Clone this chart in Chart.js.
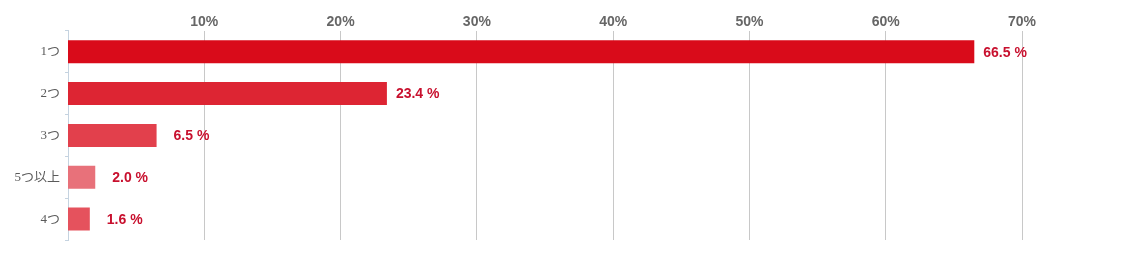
<!DOCTYPE html>
<html>
<head>
<meta charset="utf-8">
<script src="https://cdn.jsdelivr.net/npm/chart.js@4"></script>
<style>
    html, body { margin: 0; padding: 0; background: #fff; }
    #wrap { width: 1123px; height: 255px; }
</style>
</head>
<body>
<div id="wrap"><canvas id="c"></canvas></div>
<script>
const categories = ["1つ", "2つ", "3つ", "5つ以上", "4つ"];
const shares = [66.5, 23.4, 6.5, 2.0, 1.6];
const barColors = ["#d90b1a", "#dd2533", "#e2404c", "#e8717a", "#e5525d"];
const xTicks = [10, 20, 30, 40, 50, 60, 70];

const COLORS = {
    grid: "#c8c8c8",
    axis: "#c5d3e0",
    tickText: "#666666",
    catText: "#5a5a5a",
    label: "#c8102e",
};

const valueLabels = {
    id: "valueLabels",
    afterDatasetsDraw(chart) {
        const ctx = chart.ctx;
        const meta = chart.getDatasetMeta(0);
        ctx.save();
        ctx.font = "bold 14px 'Liberation Sans', Arial, sans-serif";
        ctx.fillStyle = COLORS.label;
        ctx.textBaseline = "middle";
        ctx.textAlign = "left";
        meta.data.forEach((bar, i) => {
            const gap = shares[i] < 10 ? 17 : 9;
            ctx.fillText(shares[i].toFixed(1) + " %", bar.x + gap, bar.y + 1);
        });
        ctx.restore();
    },
};

new Chart(document.getElementById("c"), {
    type: "bar",
    data: {
        labels: categories,
        datasets: [{
            data: shares,
            backgroundColor: barColors,
            barPercentage: 0.55,
            categoryPercentage: 1,
        }],
    },
    options: {
        indexAxis: "y",
        responsive: true,
        maintainAspectRatio: false,
        animation: false,
        layout: { padding: { top: 14, right: 101, bottom: 15, left: 0 } },
        plugins: {
            legend: { display: false },
            tooltip: { enabled: false },
        },
        scales: {
            x: {
                position: "top",
                min: 0,
                max: 70,
                afterBuildTicks: s => { s.ticks = xTicks.map(v => ({ value: v })); },
                ticks: {
                    callback: v => v + "%",
                    font: { family: "'Liberation Sans', Arial, sans-serif", size: 14, weight: "bold" },
                    color: COLORS.tickText,
                    padding: 0,
                },
                grid: { color: COLORS.grid, drawTicks: false },
                border: { display: false },
            },
            y: {
                afterFit: s => { s.width = 68; },
                ticks: {
                    font: { family: "'Liberation Serif', 'Noto Sans CJK JP', serif", size: 13 },
                    color: COLORS.catText,
                    padding: 5,
                },
                grid: { offset: true, drawOnChartArea: false, tickLength: 3, color: COLORS.axis },
                border: { color: COLORS.axis },
            },
        },
    },
    plugins: [valueLabels],
});
</script>
</body>
</html>
